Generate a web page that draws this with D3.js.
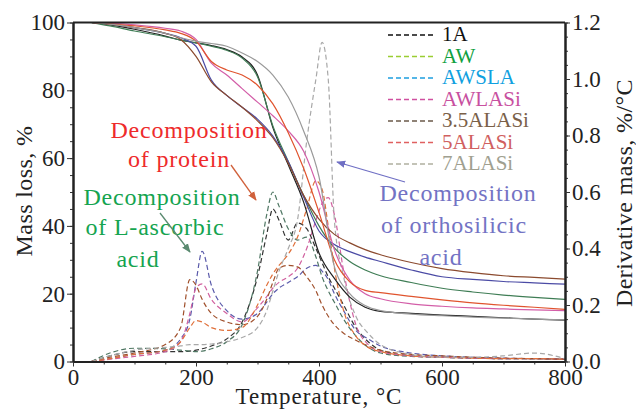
<!DOCTYPE html>
<html>
<head>
<meta charset="utf-8">
<script src="https://cdn.jsdelivr.net/npm/d3@7"></script>
<style>
  body { margin: 0; background: #fff; }
  svg { display: block; font-family: "Liberation Serif", "Times New Roman", serif; }
</style>
</head>
<body>
<div id="chart"></div>
<script>
// sample names (legend order)
var samples = ["1A", "AW", "AWSLA", "AWLASi", "3.5ALASi", "5ALASi", "7ALASi"];

// mass loss curves (left axis, %)
var tgTemps = [30, 60, 100, 150, 175, 200, 225, 250, 275, 300, 325, 350, 375, 400, 425, 450, 475, 500, 550, 600, 650, 700, 750, 800];
var tg1A     = [100, 99.3, 98, 96, 94.8, 94, 93.2, 92, 89.8, 84.5, 69, 58, 47, 32, 24.5, 19, 16, 14.8, 14.2, 13.7, 13.3, 12.9, 12.5, 12.2];
var tgAW     = [100, 99, 97.5, 95.8, 94.8, 94, 93, 91.8, 89.5, 84, 69.5, 59, 49, 40, 33.5, 29.5, 27, 25.3, 23.3, 21.6, 20.5, 19.6, 18.9, 18.3];
var tgAWSLA  = [100, 99.5, 98.5, 96.8, 95.5, 93, 83, 78.5, 75, 71.5, 66.5, 59, 48.5, 38.5, 34.5, 32.4, 30.8, 29.5, 27, 25, 24.2, 23.6, 23.2, 22.8];
var tgAWLASi = [100, 99.8, 99.3, 98.3, 97.5, 95, 88, 84.5, 80.5, 76.5, 72.5, 68, 62, 50, 33, 24, 20, 18.5, 17, 16.3, 15.8, 15.5, 15.2, 15];
var tg35     = [100, 99.5, 98.5, 96.8, 95, 90, 82.5, 78.5, 75, 71, 66, 58.5, 49, 42, 37.5, 35, 33, 31.5, 29.2, 27.4, 26.2, 25.3, 24.8, 24.3];
var tg5      = [100, 99.6, 99, 97.8, 96.8, 94.5, 88.5, 86, 84.5, 81.5, 76, 67.5, 57, 44, 30, 23.5, 21, 20.3, 19.2, 18.2, 17.3, 16.6, 16, 15.4];
var tg7      = [100, 99.5, 98.5, 96.8, 95.5, 94.5, 93.8, 93, 91, 88.5, 84.5, 78, 68, 54.5, 28, 20, 16.5, 15, 14, 13.5, 13.1, 12.8, 12.5, 12.3];

// derivative curves (right axis, %/°C)
var dtgTemps = [30, 60, 100, 150, 175, 190, 200, 210, 225, 250, 275, 300, 315, 325, 335, 350, 365, 380, 395, 405, 415, 425, 440, 460, 480, 500, 550, 600, 650, 700, 750, 800];
var dtg1A     = [0, 0.02, 0.035, 0.035, 0.035, 0.037, 0.04, 0.045, 0.055, 0.08, 0.14, 0.3, 0.45, 0.54, 0.5, 0.43, 0.49, 0.47, 0.4, 0.35, 0.3, 0.26, 0.2, 0.12, 0.07, 0.04, 0.02, 0.015, 0.012, 0.01, 0.01, 0.008];
var dtgAW     = [0, 0.03, 0.047, 0.045, 0.04, 0.037, 0.035, 0.037, 0.045, 0.07, 0.13, 0.32, 0.52, 0.6, 0.55, 0.47, 0.43, 0.44, 0.37, 0.3, 0.25, 0.21, 0.15, 0.09, 0.05, 0.03, 0.018, 0.015, 0.012, 0.01, 0.01, 0.008];
var dtgAWSLA  = [0, 0.01, 0.025, 0.04, 0.08, 0.15, 0.28, 0.39, 0.27, 0.18, 0.15, 0.17, 0.21, 0.24, 0.26, 0.28, 0.3, 0.33, 0.34, 0.32, 0.29, 0.24, 0.18, 0.11, 0.08, 0.055, 0.03, 0.02, 0.015, 0.012, 0.01, 0.008];
var dtgAWLASi = [0, 0.008, 0.018, 0.035, 0.07, 0.17, 0.26, 0.275, 0.22, 0.17, 0.14, 0.19, 0.23, 0.26, 0.28, 0.3, 0.33, 0.4, 0.5, 0.56, 0.58, 0.52, 0.32, 0.13, 0.06, 0.035, 0.02, 0.015, 0.012, 0.01, 0.01, 0.008];
var dtg35     = [0, 0.015, 0.03, 0.06, 0.12, 0.29, 0.27, 0.22, 0.17, 0.14, 0.13, 0.16, 0.22, 0.28, 0.33, 0.34, 0.335, 0.3, 0.25, 0.2, 0.16, 0.13, 0.1, 0.075, 0.055, 0.04, 0.025, 0.02, 0.015, 0.012, 0.01, 0.008];
var dtg5      = [0, 0.01, 0.025, 0.04, 0.07, 0.12, 0.145, 0.14, 0.12, 0.11, 0.12, 0.2, 0.27, 0.31, 0.34, 0.38, 0.44, 0.54, 0.64, 0.61, 0.48, 0.33, 0.18, 0.09, 0.05, 0.035, 0.02, 0.015, 0.012, 0.01, 0.01, 0.008];
var dtg7      = [0, 0.02, 0.04, 0.05, 0.055, 0.06, 0.06, 0.06, 0.062, 0.07, 0.085, 0.12, 0.18, 0.25, 0.32, 0.4, 0.5, 0.78, 1.0, 1.13, 1.0, 0.5, 0.3, 0.16, 0.1, 0.06, 0.025, 0.015, 0.015, 0.02, 0.03, 0.01];

var tgSeries = [tg1A, tgAW, tgAWSLA, tgAWLASi, tg35, tg5, tg7];
var dtgSeries = [dtg1A, dtgAW, dtgAWSLA, dtgAWLASi, dtg35, dtg5, dtg7];

// styles
var solidColors = ["#222222", "#3f7d55", "#4b4ba5", "#d35ea8", "#8b4a2e", "#e0542e", "#9a9a9a"];
var dashColors  = ["#333333", "#4f7763", "#5a5aaa", "#d0609f", "#a0502c", "#e0703a", "#a8a8a8"];
var legendLine  = ["#111111", "#9acd32", "#1e9fe0", "#d050a0", "#6b5a4a", "#e06060", "#b0b0a0"];
var legendText  = ["#111111", "#10a040", "#10a0e0", "#c850a0", "#7a6048", "#d06060", "#a0a090"];

var width = 636, height = 410;
var pLeft = 73, pRight = 565, pTop = 22.5, pBottom = 361.5;

var svg = d3.select("#chart").append("svg")
    .attr("width", width)
    .attr("height", height);

var x = d3.scaleLinear().domain([0, 800]).range([pLeft, pRight]);
var yL = d3.scaleLinear().domain([0, 100]).range([pBottom, pTop]);
var yR = d3.scaleLinear().domain([0, 1.2]).range([pBottom, pTop]);

var defs = svg.append("defs");
defs.append("clipPath").attr("id", "plot")
  .append("rect").attr("x", pLeft).attr("y", pTop).attr("width", pRight - pLeft).attr("height", pBottom - pTop);

var plot = svg.append("g").attr("clip-path", "url(#plot)");

var dtgLine = function(vals) {
    return d3.line()
        .x(function(d, i) { return x(dtgTemps[i]); })
        .y(function(d) { return yR(d); })
        .curve(d3.curveMonotoneX)(vals);
};
var tgLine = function(vals) {
    return d3.line()
        .x(function(d, i) { return x(tgTemps[i]); })
        .y(function(d) { return yL(d); })
        .curve(d3.curveMonotoneX)(vals);
};

dtgSeries.forEach(function(s, i) {
    plot.append("path")
        .attr("d", dtgLine(s))
        .attr("fill", "none")
        .attr("stroke", dashColors[i])
        .attr("stroke-width", 1.2)
        .attr("stroke-dasharray", "5,3");
});

tgSeries.forEach(function(s, i) {
    plot.append("path")
        .attr("d", tgLine(s))
        .attr("fill", "none")
        .attr("stroke", solidColors[i])
        .attr("stroke-width", 1.2);
});

// axes
function styleAxis(g, size) {
    g.select(".domain").attr("stroke", "#222").attr("stroke-width", 2);
    g.selectAll(".tick line").attr("stroke", "#333").attr("stroke-width", 1);
    g.selectAll("text").attr("font-size", size).attr("fill", "#222")
        .attr("font-family", "'Liberation Serif', serif");
}

svg.append("g").attr("transform", "translate(0," + pBottom + ")")
    .call(d3.axisBottom(x).tickValues(d3.range(0, 801, 50)).tickSize(3).tickSizeOuter(0).tickFormat(""))
    .call(function(g) { styleAxis(g, 23); });
svg.append("g").attr("transform", "translate(0," + pBottom + ")")
    .call(d3.axisBottom(x).tickValues([0, 200, 400, 600, 800]).tickSize(5).tickPadding(2).tickSizeOuter(0))
    .call(function(g) { styleAxis(g, 23); });

svg.append("g").attr("transform", "translate(" + pLeft + ",0)")
    .call(d3.axisLeft(yL).tickValues(d3.range(0, 101, 5)).tickSize(3).tickSizeOuter(0).tickFormat(""))
    .call(function(g) { styleAxis(g, 23); });
svg.append("g").attr("transform", "translate(" + pLeft + ",0)")
    .call(d3.axisLeft(yL).tickValues([0, 20, 40, 60, 80, 100]).tickSize(6).tickPadding(2).tickSizeOuter(0))
    .call(function(g) { styleAxis(g, 23); });

svg.append("g").attr("transform", "translate(" + pRight + ",0)")
    .call(d3.axisRight(yR).tickValues(d3.range(0, 1.201, 0.05)).tickSize(3).tickSizeOuter(0).tickFormat(""))
    .call(function(g) { styleAxis(g, 23); });
svg.append("g").attr("transform", "translate(" + pRight + ",0)")
    .call(d3.axisRight(yR).tickValues([0, 0.2, 0.4, 0.6, 0.8, 1.0, 1.2]).tickSize(5).tickPadding(2).tickSizeOuter(0).tickFormat(d3.format(".1f")))
    .call(function(g) { styleAxis(g, 23); });

svg.append("line")
    .attr("x1", pLeft).attr("x2", pRight).attr("y1", pTop).attr("y2", pTop)
    .attr("stroke", "#222").attr("stroke-width", 2);

// axis titles
svg.append("text")
    .attr("x", 319).attr("y", 404)
    .attr("text-anchor", "middle")
    .attr("font-size", 23).attr("letter-spacing", 1).attr("fill", "#222")
    .text("Temperature, °C");
svg.append("text")
    .attr("transform", "translate(32,191) rotate(-90)")
    .attr("text-anchor", "middle")
    .attr("font-size", 24).attr("letter-spacing", 0.4).attr("fill", "#222")
    .text("Mass loss, %");
svg.append("text")
    .attr("transform", "translate(632,193) rotate(-90)")
    .attr("text-anchor", "middle")
    .attr("font-size", 24).attr("letter-spacing", 0.4).attr("fill", "#222")
    .text("Derivative mass, %/°C");

// legend
samples.forEach(function(name, i) {
    var by = 41 + i * 21.5;
    svg.append("line")
        .attr("x1", 388).attr("x2", 435).attr("y1", by - 6).attr("y2", by - 6)
        .attr("stroke", legendLine[i]).attr("stroke-width", 1.5)
        .attr("stroke-dasharray", "5,3");
    svg.append("text")
        .attr("x", 442).attr("y", by)
        .attr("font-size", 21).attr("fill", legendText[i])
        .text(name);
});

// annotations
function arrow(id, color, x1, y1, x2, y2) {
    defs.append("marker").attr("id", id)
        .attr("viewBox", "0 0 10 10").attr("refX", 9).attr("refY", 5)
        .attr("markerWidth", 7).attr("markerHeight", 7).attr("orient", "auto")
      .append("path").attr("d", "M0,1L10,5L0,9Z").attr("fill", color);
    svg.append("line")
        .attr("x1", x1).attr("y1", y1).attr("x2", x2).attr("y2", y2)
        .attr("stroke", color).attr("stroke-width", 1.3)
        .attr("marker-end", "url(#" + id + ")");
}

function note(lines, color) {
    lines.forEach(function(l) {
        svg.append("text")
            .attr("x", l[1]).attr("y", l[2])
            .attr("text-anchor", "middle")
            .attr("font-size", 24)
            .attr("letter-spacing", 0.8)
            .attr("fill", color)
            .text(l[0]);
    });
}

note([["Decomposition", 189, 138], ["of protein", 179, 167]], "#ee2b2b");
note([["Decomposition", 162, 205], ["of L-ascorbic", 155, 235], ["acid", 138, 267]], "#15a450");
note([["Decomposition", 458, 201], ["of orthosilicic", 454, 233], ["acid", 441, 265]], "#7373c4");

arrow("a1", "#d0603a", 231, 165, 256, 200);
arrow("a2", "#5a8a70", 160, 213, 190, 252);
arrow("a3", "#6f6fc4", 405, 182, 337, 162);
</script>
</body>
</html>
